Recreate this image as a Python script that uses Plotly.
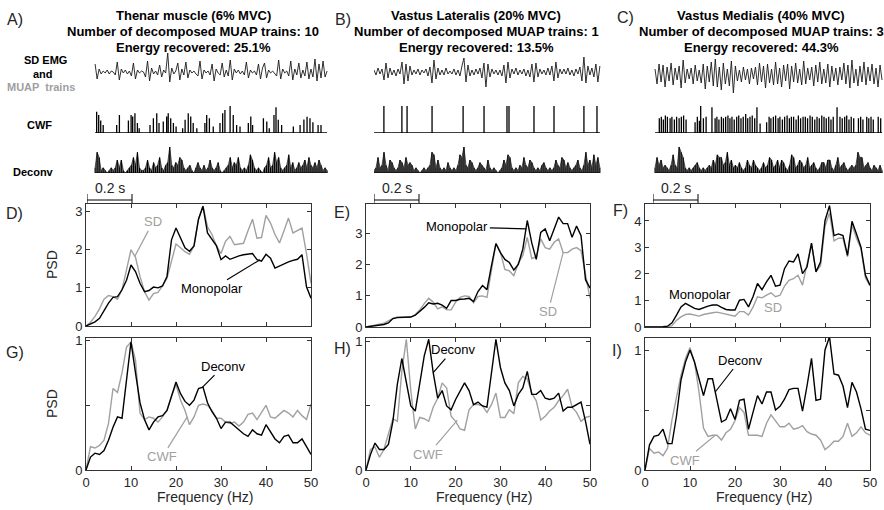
import numpy as np
import plotly.graph_objects as go

W, H = 884, 510

# ---------------- data ----------------
freq = list(range(51))

D_mono = [0, 0.05, 0.11, 0.2, 0.42, 0.6, 0.75, 0.77, 0.95, 1.2, 1.6, 1.43, 1.12, 0.9, 0.93, 1.02, 1.0, 1.05, 1.3, 2.26,
          2.57, 2.3, 2.05, 1.96, 2.1, 2.8, 3.14, 2.44, 2.26, 2.1, 1.74, 1.84, 1.75, 1.8, 1.84, 1.87, 1.88, 1.9, 1.74, 1.7,
          1.88, 1.78, 1.52, 1.58, 1.63, 1.68, 1.72, 1.75, 1.87, 1.03, 0.73]
D_sd = [0, 0.1, 0.25, 0.45, 0.7, 0.8, 0.77, 0.7, 0.95, 1.5, 2.0, 1.8, 1.3, 0.9, 0.68, 0.85, 0.88, 1.05, 1.25, 1.7,
        2.15, 2.05, 1.95, 1.88, 2.1, 2.8, 3.15, 2.6, 2.4, 2.1, 1.9, 2.22, 2.35, 2.13, 2.15, 2.17, 2.5, 2.8, 2.3, 2.32,
        2.9, 2.7, 2.4, 2.18, 2.5, 2.83, 2.44, 2.5, 2.57, 1.9, 1.12]
E_mono = [0, 0.02, 0.03, 0.05, 0.08, 0.13, 0.27, 0.3, 0.3, 0.3, 0.32, 0.38, 0.5, 0.63, 0.78, 0.74, 0.76, 0.7, 0.6, 0.85,
          0.85, 0.89, 0.9, 0.92, 0.82, 1.14, 1.33, 1.2, 1.96, 2.68, 2.39, 2.17, 2.07, 1.83, 2.01, 2.5, 3.42, 2.7, 2.17,
          3.04, 3.15, 2.77, 3.15, 3.53, 3.32, 3.32, 2.88, 3.24, 2.93, 1.52, 1.25]
E_sd = [0, 0.03, 0.05, 0.08, 0.12, 0.2, 0.28, 0.32, 0.32, 0.3, 0.32, 0.4, 0.55, 0.75, 0.92, 0.8, 0.58, 0.65, 0.55, 0.55,
        0.8, 0.95, 1.0, 0.98, 0.78, 0.98, 1.0, 0.95, 1.8, 2.68, 2.4, 1.85, 1.8, 1.65, 2.05, 2.3, 2.88, 2.2, 2.25, 2.83,
        2.55, 2.5, 2.72, 2.83, 2.39, 2.39, 2.5, 2.55, 2.45, 1.63, 0.92]
F_mono = [0, 0, 0, 0, 0.01, 0.03, 0.16, 0.45, 0.76, 0.89, 0.79, 0.7, 0.66, 0.74, 0.79, 0.83, 0.83, 0.74, 0.66, 0.64,
          0.64, 1.01, 1.04, 0.76, 1.14, 1.64, 1.41, 1.7, 1.95, 1.54, 1.58, 2.2, 2.49, 2.45, 2.76, 2.01, 2.26, 3.16, 2.08,
          2.45, 4.01, 4.58, 3.45, 3.51, 3.45, 2.7, 3.99, 3.51, 3.01, 1.95, 1.58]
F_sd = [0, 0, 0, 0, 0, 0.01, 0.05, 0.25, 0.38, 0.47, 0.49, 0.45, 0.41, 0.47, 0.51, 0.54, 0.56, 0.52, 0.48, 0.44,
        0.41, 0.58, 0.58, 0.45, 0.75, 1.14, 1.1, 1.2, 1.29, 1.14, 1.2, 1.54, 1.76, 1.82, 1.95, 1.58, 2.3, 3.14, 2.1,
        2.3, 3.8, 4.3, 3.25, 3.35, 3.35, 2.65, 3.85, 3.35, 2.95, 1.85, 1.55]
G_deconv = [0, 0.1, 0.13, 0.12, 0.15, 0.23, 0.33, 0.41, 0.4, 0.7, 0.99, 0.75, 0.52, 0.39, 0.31, 0.37, 0.41, 0.42, 0.46,
            0.57, 0.68, 0.59, 0.53, 0.5, 0.54, 0.63, 0.64, 0.52, 0.45, 0.4, 0.32, 0.37, 0.37, 0.34, 0.31, 0.28, 0.26,
            0.31, 0.28, 0.27, 0.35, 0.3, 0.24, 0.21, 0.26, 0.27, 0.21, 0.21, 0.24, 0.18, 0.12]
G_cwf = [0, 0.18, 0.17, 0.19, 0.23, 0.36, 0.63, 0.6, 0.75, 0.95, 0.99, 0.85, 0.44, 0.39, 0.41, 0.4, 0.37, 0.41, 0.46,
         0.57, 0.66, 0.54, 0.46, 0.35, 0.41, 0.5, 0.51, 0.5, 0.46, 0.4, 0.4, 0.37, 0.36, 0.37, 0.34, 0.37, 0.43, 0.44,
         0.39, 0.44, 0.5, 0.41, 0.4, 0.43, 0.46, 0.44, 0.41, 0.46, 0.42, 0.39, 0.51]
H_deconv = [0, 0.12, 0.21, 0.16, 0.16, 0.2, 0.38, 0.67, 0.87, 0.69, 0.5, 0.46, 0.69, 0.89, 1.02, 0.76, 0.56, 0.62, 0.5,
            0.47, 0.55, 0.62, 0.68, 0.62, 0.51, 0.53, 0.5, 0.49, 0.77, 1.02, 0.8, 0.68, 0.62, 0.5, 0.59, 0.64, 0.77,
            0.59, 0.59, 0.62, 0.56, 0.55, 0.56, 0.6, 0.46, 0.49, 0.49, 0.51, 0.53, 0.38, 0.2]
H_cwf = [0, 0.16, 0.18, 0.1, 0.16, 0.28, 0.4, 0.38, 0.77, 1.02, 0.62, 0.32, 0.41, 0.4, 0.38, 0.49, 0.56, 0.68, 0.64,
         0.42, 0.38, 0.32, 0.31, 0.47, 0.51, 0.51, 0.5, 0.45, 0.51, 0.6, 0.41, 0.41, 0.47, 0.44, 0.68, 0.73, 0.71, 0.6,
         0.54, 0.39, 0.42, 0.46, 0.49, 0.54, 0.58, 0.63, 0.49, 0.45, 0.38, 0.41, 0.42]
I_deconv = [0, 0.21, 0.28, 0.29, 0.34, 0.22, 0.22, 0.45, 0.75, 0.9, 1.0, 0.9, 0.76, 0.62, 0.76, 0.76, 0.58, 0.4, 0.42,
            0.51, 0.42, 0.58, 0.59, 0.34, 0.48, 0.62, 0.55, 0.65, 0.65, 0.5, 0.53, 0.59, 0.67, 0.68, 0.68, 0.49, 0.7,
            0.93, 0.58, 0.59, 1.0, 1.11, 0.8, 0.79, 0.7, 0.52, 0.73, 0.65, 0.51, 0.34, 0.33]
I_cwf = [0, 0.18, 0.14, 0.15, 0.12, 0.18, 0.42, 0.62, 0.79, 0.93, 1.02, 0.9, 0.65, 0.35, 0.28, 0.29, 0.29, 0.25, 0.31,
         0.34, 0.41, 0.52, 0.48, 0.29, 0.29, 0.29, 0.28, 0.39, 0.46, 0.41, 0.36, 0.36, 0.39, 0.34, 0.35, 0.37, 0.32,
         0.3, 0.29, 0.25, 0.17, 0.2, 0.24, 0.24, 0.28, 0.39, 0.28, 0.31, 0.36, 0.31, 0.29]

# recording windows (s)
win_A = (0.036, 1.067)
win_B = (0.0, 1.004)
win_C = (0.009, 1.018)

emg_A = [8, -7, 3, -2, 1, -1, 2, -2, 1, 0,
         -3, 10, -8, 3, -1, 2, -2, 1, -4, 9,
         -7, 2, -1, 1, 0, -5, 11, -9, 4, -2,
         1, -3, 7, -5, 2, -1, 19, -10, 4, -2,
         1, 9, -8, 3, -3, 10, -6, 2, -1, 1,
         -2, -4, 11, -7, 2, -1, 1, -3, 8, -9,
         3, -1, -3, 9, -5, 2, -4, 12, -8, 3,
         -1, 2, -2, 1, -3, 10, -6, 2, -1, 1,
         -3, 8, -7, 4, 9, -6, 2, -1, 1, -2,
         -4, 12, -7, 3, -1, 1, -4, 11, -8, 3,
         -3, 9, -6, 2, -4, 10, -7, 3, -5, 13,
         -9, 8, -6, 11, -5, 1]
emg_B = [2, -3, 4, -2, 3, -8, 9, -6, 4, -3, 2, -4, 3, -2, 10, -12, 8, -9, 6, -3,
         2, -2, 3, -3, 2, -1, 3, -4, 5, -11, 12, -7, 4, -3, 2, -3, 4, -2, 1, -2,
         3, -3, 2, -4, 6, 14, -10, 7, -4, 2, -3, 3, -2, 4, -6, 9, -15, 8, -5, 3,
         -2, 2, -3, 2, -4, 7, -11, 10, -6, 3, -2, 4, -3, 2, -2, 3, -4, 2, -5, 8,
         -10, 9, -5, 3, -2, 2, -3, 4, -3, 6, -9, 10, -6, 3, -2, 3, -2, 4, -3, 2,
         -4, 3, -2, 5, -9, 15, -11, 6, -3, 4, -5, 8, -10, 6]
emg_C = [6, -9, 11, -7, 10, -12, 8, -6, 12, -10,
         7, -5, 9, -13, 15, -8, 6, -4, 7, -9,
         10, -6, 5, -8, 11, -14, 9, -7, 13, -11,
         16, -12, 8, -15, 12, -9, 6, -11, 14, -18,
         9, -6, 5, -7, 8, -5, 6, -9, 7, -4,
         8, -10, 12, -7, 9, -13, 11, -8, 6, -10,
         13, -9, 7, -12, 10, -6, 11, -14, 9, -7,
         12, -8, 6, -10, 14, -9, 7, -5, 8, -11,
         10, -7, 13, -9, 6, -8, 11, -12, 9, -6,
         7, -10, 8, -5, 12, -9, 10, -13, 15, -8,
         6, -11, 9, -7, 13, -10, 8, -6, 11, -9,
         7, -12, 10, -5]

cwf_A_ms = [43, 52, 61, 72, 132, 144, 184, 196, 203, 213, 224, 232, 280, 295, 310, 320, 339, 354, 361, 372, 384, 396,
            425, 436, 450, 461, 472, 488, 524, 532, 544, 561, 591, 603, 613, 636, 650, 665, 680, 717, 728, 736, 784,
            799, 810, 831, 840, 850, 865, 917, 947, 964, 978, 991, 1004, 1027, 1040]
cwf_A_h = [0.79, 0.67, 0.46, 0.3, 0.3, 0.67, 0.46, 0.67, 0.61, 0.73, 0.37, 0.18, 0.3, 0.55, 0.73, 0.37, 0.43, 0.61,
           0.73, 0.55, 0.37, 0.24, 0.18, 0.49, 0.73, 0.61, 0.37, 0.18, 0.37, 0.67, 0.55, 0.24, 0.37, 0.73, 0.85, 1.0,
           0.67, 0.3, 0.24, 0.37, 0.61, 0.3, 0.55, 0.43, 0.18, 0.67, 0.95, 0.49, 0.3, 0.24, 0.3, 0.5, 0.6, 0.55, 0.4,
           0.3, 0.3]
cwf_B_ms = [44, 124, 147, 258, 396, 489, 591, 600, 711, 800, 933, 991]
cwf_B_h = [1, 1, 1, 1, 1, 1, 1, 1, 1, 1, 1, 1]
cwf_C_ms = [28, 37, 46, 55, 64, 76, 84, 95, 105, 116, 126, 136, 147,
            187, 197, 206, 212, 224, 236,
            262, 276, 284, 293, 304, 313, 323, 333, 342, 351, 361, 372, 381, 391, 401, 412, 421, 431, 441, 452, 462, 476,
            505, 516, 524, 535, 545, 556, 564, 575, 585, 596, 606, 615, 625, 636, 646, 656, 667, 677, 687, 698, 708,
            719, 729, 739, 750, 760, 770, 781, 791, 801,
            818, 831, 841, 852, 861, 871, 881, 892,
            913, 923, 933, 950, 959, 969, 979, 1001, 1012]
cwf_C_h = [0.55, 0.6, 0.5, 0.65, 0.6, 0.55, 0.6, 0.5, 0.6, 0.55, 0.6, 0.65, 0.5,
           0.4, 0.6, 0.45, 1.0, 0.55, 0.6,
           0.95, 0.55, 0.6, 0.5, 0.6, 0.55, 0.6, 0.65, 0.55, 0.6, 0.5, 0.6, 0.65, 0.55, 0.6, 0.7, 0.55, 0.6, 0.65,
           0.55, 0.95, 0.35,
           0.4, 0.6, 0.55, 0.6, 0.65, 0.55, 0.6, 0.5, 0.6, 0.65, 0.55, 0.6, 0.6, 0.5, 0.65, 0.55, 0.6, 0.6, 0.55,
           0.65, 0.6, 0.5, 0.6, 0.55, 0.65, 0.6, 0.55, 0.6, 0.5, 0.6,
           0.95, 0.6, 0.55, 0.6, 0.65, 0.5, 0.6, 0.55,
           0.55, 0.6, 0.5, 0.6, 0.55, 0.6, 0.5, 0.6, 0.55]

deconv_A = [2, 8, 6, 1, 2, 1, 0, 1, 2, 1, 2, 5, 2, 5, 1, 0, 1, 2, 3, 6, 3, 8, 2, 1, 1, 2, 5, 2, 1, 4,
            2, 3, 6, 2, 1, 3, 4, 10, 3, 2, 4, 3, 6, 5, 2, 1, 2, 3, 1, 0, 2, 4, 2, 1, 3, 1, 2, 5, 2, 1,
            2, 4, 1, 0, 1, 2, 3, 6, 2, 4, 3, 6, 2, 1, 2, 1, 3, 7, 5, 2, 1, 2, 1, 0, 2, 3, 6, 2, 3, 8,
            4, 6, 2, 1, 2, 3, 7, 2, 4, 1, 2, 4, 2, 3, 5, 2, 6, 3, 2, 4, 2, 5, 3, 1, 2, 1]
deconv_B = [1, 2, 6, 2, 3, 8, 3, 1, 5, 4, 2, 1, 2, 5, 4, 2, 6, 3, 4, 3, 1, 2, 1, 0, 1, 2, 1, 2, 3, 8,
            7, 2, 5, 2, 1, 2, 1, 4, 2, 1, 2, 1, 3, 7, 6, 10, 3, 2, 5, 4, 2, 1, 2, 4, 3, 2, 1, 5, 2, 1,
            2, 1, 0, 1, 2, 5, 3, 7, 6, 2, 1, 2, 1, 3, 2, 6, 3, 2, 5, 4, 2, 1, 2, 1, 3, 4, 2, 1, 2, 1,
            2, 5, 3, 2, 6, 5, 2, 4, 2, 1, 2, 3, 5, 2, 1, 3, 8, 3, 5, 2, 7, 3, 6, 2]
deconv_C = [2, 6, 3, 5, 2, 3, 2, 1, 3, 7, 3, 2, 10, 8, 6, 2, 1, 2, 1, 2, 3, 4, 2, 1, 2, 1, 2, 3, 2, 5,
            3, 7, 6, 6, 3, 4, 8, 3, 5, 2, 3, 2, 4, 2, 1, 2, 5, 3, 2, 5, 3, 2, 1, 2, 4, 2, 3, 6, 5, 2,
            3, 5, 2, 5, 4, 2, 1, 3, 7, 6, 2, 3, 5, 4, 2, 3, 6, 2, 3, 4, 2, 1, 2, 4, 4, 2, 5, 5, 2, 1,
            3, 6, 2, 3, 4, 2, 1, 2, 3, 2, 3, 8, 6, 6, 2, 3, 4, 2, 1, 3, 2, 1, 3, 1]

# ---------------- figure ----------------
BLACK = '#000000'
GRAY = '#a0a0a0'
AXC = '#333333'
FONT = 'Liberation Sans, Arial, sans-serif'

fig = go.Figure()
layout_axes = {}
counter = [0]


def px_x(p):
    return p / W


def px_y(p):
    return 1 - p / H


def new_axes(x0, x1, y0, y1, xr, yr, psd=None):
    counter[0] += 1
    k = counter[0]
    s = '' if k == 1 else str(k)
    xa = dict(domain=[px_x(x0), px_x(x1)], range=xr, anchor='y' + s, fixedrange=True, automargin=False)
    ya = dict(domain=[px_y(y1), px_y(y0)], range=yr, anchor='x' + s, fixedrange=True, automargin=False)
    if psd is None:
        for a in (xa, ya):
            a.update(visible=False, showgrid=False, zeroline=False)
    else:
        common = dict(showline=True, linecolor=AXC, linewidth=1, mirror='allticks', ticks='inside',
                      ticklen=4, tickwidth=1, tickcolor=AXC, showgrid=False, zeroline=False,
                      tickfont=dict(family=FONT, size=13, color='#262626'))
        xa.update(common, tickvals=[0, 10, 20, 30, 40, 50], showticklabels=psd['xlabels'])
        ya.update(common, tickvals=psd['yticks'], ticktext=psd['yticktext'])
    layout_axes['xaxis' + s] = xa
    layout_axes['yaxis' + s] = ya
    return 'x' + s, 'y' + s


def stem_path(times, heights, win):
    xs, ys = [win[0]], [0]
    for t, h in zip(times, heights):
        xs += [t, t, t]
        ys += [0, h, 0]
    xs.append(win[1])
    ys.append(0)
    return xs, ys


SEC_PX = 225.0  # pixels per second for the time traces
annotations = []
shapes = []

columns = [
    dict(start=87, end=330, win=win_A, emg=emg_A, emg_c=72, cwf=(cwf_A_ms, cwf_A_h), dec=deconv_A,
         letter='A)', lx=15, ly=20, tx=193,
         title=['Thenar muscle (6% MVC)', 'Number of decomposed MUAP trains: 10', 'Energy recovered: 25.1%']),
    dict(start=374, end=602, win=win_B, emg=emg_B, emg_c=72, cwf=(cwf_B_ms, cwf_B_h), dec=deconv_B,
         letter='B)', lx=343, ly=20, tx=476,
         title=['Vastus Lateralis (20% MVC)', 'Number of decomposed MUAP trains: 1', 'Energy recovered: 13.5%']),
    dict(start=653, end=884, win=win_C, emg=emg_C, emg_c=75, cwf=(cwf_C_ms, cwf_C_h), dec=deconv_C,
         letter='C)', lx=625, ly=18, tx=761,
         title=['Vastus Medialis (40% MVC)', 'Number of decomposed MUAP trains: 3', 'Energy recovered: 44.3%']),
]

for col in columns:
    trange = [0, (col['end'] - col['start']) / SEC_PX]
    # EMG
    xa, ya = new_axes(col['start'], col['end'], col['emg_c'] - 20, col['emg_c'] + 20, trange, [-20, 20])
    t = np.linspace(col['win'][0], col['win'][1], len(col['emg']))
    fig.add_trace(go.Scatter(x=t, y=col['emg'], mode='lines', line=dict(color='#1a1a1a', width=0.9),
                             xaxis=xa, yaxis=ya, hoverinfo='skip'))
    # CWF spikes
    xa, ya = new_axes(col['start'], col['end'], 106, 133, trange, [0, 1])
    sx, sy = stem_path([v / 1000.0 for v in col['cwf'][0]], col['cwf'][1], col['win'])
    fig.add_trace(go.Scatter(x=sx, y=sy, mode='lines', line=dict(color=BLACK, width=1.3),
                             xaxis=xa, yaxis=ya, hoverinfo='skip'))
    # Deconvolution (stems + envelope)
    xa, ya = new_axes(col['start'], col['end'], 147, 173, trange, [0, 10])
    t = np.linspace(col['win'][0], col['win'][1], len(col['dec']))
    fig.add_trace(go.Scatter(x=t, y=col['dec'], mode='lines', fill='tozeroy', fillcolor='rgba(0,0,0,0.55)',
                             line=dict(color=BLACK, width=0.6), xaxis=xa, yaxis=ya, hoverinfo='skip'))
    dx, dy = stem_path(list(t), col['dec'], col['win'])
    fig.add_trace(go.Scatter(x=dx, y=dy, mode='lines', line=dict(color=BLACK, width=1.1),
                             xaxis=xa, yaxis=ya, hoverinfo='skip'))
    # 0.2 s scale bar
    shapes.append(dict(type='line', xref=xa, yref='paper', x0=0, x1=0.2, y0=px_y(200), y1=px_y(200),
                       line=dict(color=BLACK, width=1)))
    for tb in (0, 0.2):
        shapes.append(dict(type='line', xref=xa, yref='paper', x0=tb, x1=tb, y0=px_y(194), y1=px_y(203),
                           line=dict(color=BLACK, width=1)))
    annotations.append(dict(text='0.2 s', xref=xa, yref='paper', x=0.1, y=px_y(188), showarrow=False,
                            font=dict(family=FONT, size=14, color='#262626'), xanchor='center', yanchor='middle'))
    # titles
    annotations.append(dict(text=col['letter'], xref='paper', yref='paper', x=px_x(col['lx']), y=px_y(col['ly']),
                            showarrow=False, font=dict(family=FONT, size=16, color='#262626'),
                            xanchor='center', yanchor='middle'))
    for i, line in enumerate(col['title']):
        annotations.append(dict(text='<b>%s</b>' % line, xref='paper', yref='paper', x=px_x(col['tx']),
                                y=px_y([15, 31.5, 47][i]), showarrow=False,
                                font=dict(family=FONT, size=13, color=BLACK), xanchor='center', yanchor='middle'))

# left row labels
row_labels = [('<b>SD EMG</b>', 45, 60, BLACK), ('<b>and</b>', 43, 74, BLACK), ('<b>MUAP  trains</b>', 41, 87, GRAY),
              ('<b>CWF</b>', 39, 125, BLACK), ('<b>Deconv</b>', 33, 172, BLACK)]
for txt, x, y, c in row_labels:
    annotations.append(dict(text=txt, xref='paper', yref='paper', x=px_x(x), y=px_y(y), showarrow=False,
                            font=dict(family=FONT, size=11, color=c), xanchor='center', yanchor='middle'))

# PSD panels
panels = [
    dict(x=(86, 311), y=(204, 326), yr=[0, 3.2], yt=[0, 1, 2, 3], ytt=['0', '1', '2', '3'], xl=False,
         a=D_sd, b=D_mono, letter='D)', lp=(14, 213)),
    dict(x=(366, 590), y=(204, 327), yr=[0, 3.95], yt=[0, 1, 2, 3], ytt=['0', '1', '2', '3'], xl=False,
         a=E_sd, b=E_mono, letter='E)', lp=(342, 212)),
    dict(x=(645, 870), y=(204, 327), yr=[0, 4.64], yt=[0, 1, 2, 3, 4], ytt=['0', '1', '2', '3', '4'], xl=False,
         a=F_sd, b=F_mono, letter='F)', lp=(620, 210)),
    dict(x=(86, 311), y=(338, 470), yr=[0, 1.02], yt=[0, 0.5, 1], ytt=['0', '', '1'], xl=True,
         a=G_cwf, b=G_deconv, letter='G)', lp=(15, 352)),
    dict(x=(366, 590), y=(338, 470), yr=[0, 1.03], yt=[0, 0.5, 1], ytt=['0', '', '1'], xl=True,
         a=H_cwf, b=H_deconv, letter='H)', lp=(342, 348)),
    dict(x=(645, 870), y=(338, 470), yr=[0, 1.1], yt=[0, 0.5, 1], ytt=['0', '', '1'], xl=True,
         a=I_cwf, b=I_deconv, letter='I)', lp=(617, 350)),
]
paxes = []
for p in panels:
    xa, ya = new_axes(p['x'][0], p['x'][1], p['y'][0], p['y'][1], [0, 50], p['yr'],
                      psd=dict(xlabels=p['xl'], yticks=p['yt'], yticktext=p['ytt']))
    paxes.append((xa, ya))
    fig.add_trace(go.Scatter(x=freq, y=p['a'], mode='lines', line=dict(color=GRAY, width=1.4),
                             xaxis=xa, yaxis=ya, hoverinfo='skip'))
    fig.add_trace(go.Scatter(x=freq, y=p['b'], mode='lines', line=dict(color=BLACK, width=1.4),
                             xaxis=xa, yaxis=ya, hoverinfo='skip'))
    annotations.append(dict(text=p['letter'], xref='paper', yref='paper', x=px_x(p['lp'][0]), y=px_y(p['lp'][1]),
                            showarrow=False, font=dict(family=FONT, size=16, color='#262626'),
                            xanchor='center', yanchor='middle'))
    if p['xl']:
        cx = (p['x'][0] + p['x'][1]) / 2 + 6
        annotations.append(dict(text='Frequency (Hz)', xref='paper', yref='paper', x=px_x(cx), y=px_y(497),
                                showarrow=False, font=dict(family=FONT, size=14, color='#262626'),
                                xanchor='center', yanchor='middle'))

for yc in (265, 404):
    annotations.append(dict(text='PSD', xref='paper', yref='paper', x=px_x(52), y=px_y(yc), showarrow=False,
                            textangle=-90, font=dict(family=FONT, size=14, color='#262626'),
                            xanchor='center', yanchor='middle'))

# curve labels
callouts = [
    (0, 'SD', GRAY, 10.9, 1.84, 18, -34),
    (0, 'Monopolar', BLACK, 38.7, 1.74, -48, 29),
    (1, 'Monopolar', BLACK, 35.8, 3.15, -69, -2),
    (1, 'SD', GRAY, 44.0, 2.39, -15, 59),
    (3, 'Deconv', BLACK, 25.9, 0.64, 21, -21),
    (3, 'CWF', GRAY, 22.5, 0.41, -25, 40),
    (4, 'Deconv', BLACK, 15.0, 0.76, 20, -23),
    (4, 'CWF', GRAY, 20.4, 0.39, -29, 34),
    (5, 'Deconv', BLACK, 15.6, 0.65, 25, -32),
    (5, 'CWF', GRAY, 15.6, 0.29, -30, 25),
]
for idx, txt, c, x, y, ax, ay in callouts:
    xa, ya = paxes[idx]
    annotations.append(dict(text=txt, xref=xa, yref=ya, x=x, y=y, ax=ax, ay=ay, showarrow=True, arrowhead=0,
                            arrowwidth=1.2, arrowcolor=c, font=dict(family=FONT, size=13, color=c)))
plain = [(2, 'Monopolar', BLACK, 12.2, 1.21), (2, 'SD', GRAY, 28.4, 0.75)]
for idx, txt, c, x, y in plain:
    xa, ya = paxes[idx]
    annotations.append(dict(text=txt, xref=xa, yref=ya, x=x, y=y, showarrow=False,
                            font=dict(family=FONT, size=13, color=c)))

fig.update_layout(width=W, height=H, margin=dict(l=0, r=0, t=0, b=0, pad=0, autoexpand=False), showlegend=False,
                  paper_bgcolor='white', plot_bgcolor='white', annotations=annotations, shapes=shapes,
                  **layout_axes)
fig.write_html('out.html', config={'displayModeBar': False, 'staticPlot': True},
               post_script="document.body.style.margin='0';document.body.style.padding='0';")
